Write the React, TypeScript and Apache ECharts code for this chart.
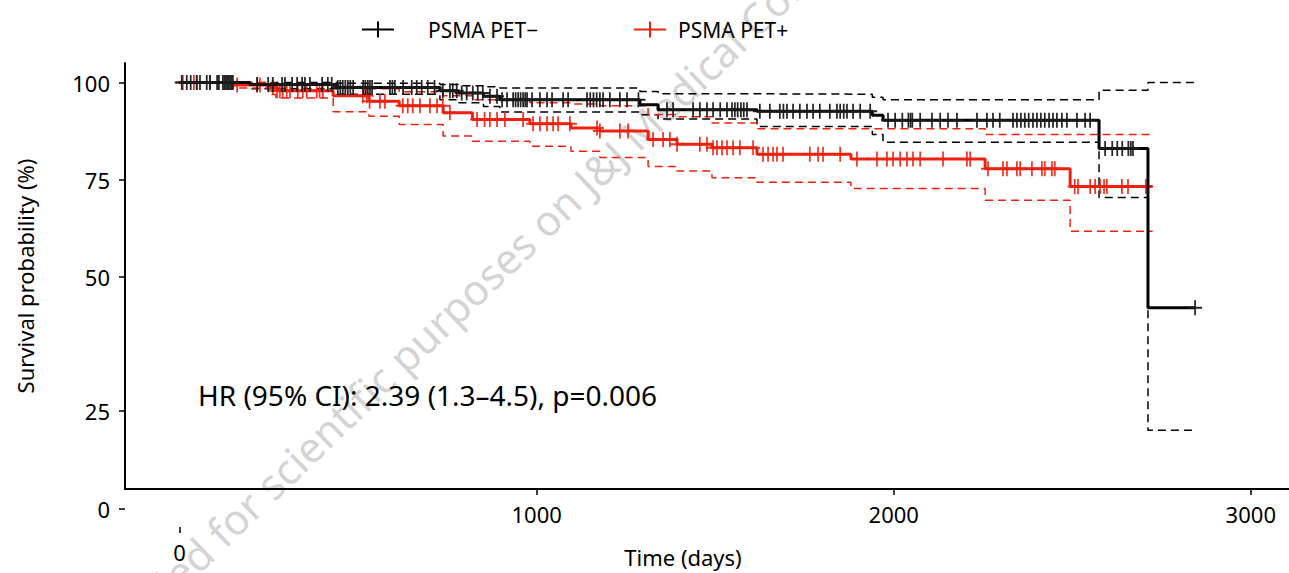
import React, { useEffect, useRef } from "react";
import * as echarts from "echarts";

// ---- axis ticks ----
const xTicks = [1000, 2000, 3000];
const xOriginTicks = [0];
const yTicks = [50, 75, 100];
const yLowTicks = [0, 25];

// ---- PSMA PET− (black) ----
const negTimes = [0, 197, 441, 729, 780, 851, 897, 1289, 1340, 1617, 1940, 1970, 2575, 2712, 2844];
const negSurv = [100, 99.5, 98.7, 97.9, 97.3, 96.5, 95.6, 94.3, 93.0, 92.6, 91.6, 90.3, 83.0, 42.0, 42.0];
const negUpper = [100, 100, 99.8, 99.5, 99.2, 98.9, 98.6, 97.7, 97.1, 97.0, 96.2, 95.6, 98.0, 100, 100];
const negLower = [100, 98.4, 97.0, 95.6, 94.8, 93.8, 92.4, 91.7, 90.6, 88.7, 86.6, 84.6, 70.4, 10.4, 10.4];
const negCensor = [
  6, 20, 31, 48, 57, 76, 85, 105, 110, 121, 125, 129, 133, 137, 141, 145, 149, 217, 248, 261, 287, 295,
  315, 329, 343, 351, 365, 399, 415, 426, 443, 450, 457, 464, 471, 478, 486, 514, 520, 527, 533, 539,
  589, 596, 603, 626, 650, 664, 678, 695, 714, 737, 757, 765, 776, 790, 804, 821, 835, 849, 869, 889,
  903, 917, 934, 941, 948, 955, 962, 968, 973, 987, 1009, 1029, 1043, 1074, 1088, 1141, 1150, 1159,
  1168, 1177, 1186, 1205, 1233, 1253, 1285, 1365, 1382, 1438, 1457, 1477, 1494, 1514, 1533, 1547,
  1555, 1563, 1572, 1580, 1589, 1625, 1653, 1681, 1691, 1701, 1718, 1737, 1757, 1774, 1793, 1821,
  1841, 1850, 1860, 1869, 1886, 1906, 1934, 1984, 2004, 2024, 2041, 2047, 2052, 2074, 2107, 2130,
  2152, 2177, 2233, 2261, 2278, 2297, 2334, 2345, 2356, 2367, 2378, 2390, 2401, 2412, 2423, 2435,
  2446, 2457, 2471, 2485, 2513, 2536, 2550, 2592, 2612, 2626, 2640, 2657, 2664, 2670, 2844,
];

// ---- PSMA PET+ (red) ----
const posTimes = [0, 150, 250, 270, 430, 530, 615, 738, 820, 981, 1096, 1177, 1312, 1393, 1491, 1617, 1880, 2256, 2494, 2725];
const posSurv = [100, 99.4, 98.7, 97.9, 96.6, 95.2, 94.0, 92.2, 90.5, 89.4, 88.3, 87.5, 85.3, 84.1, 83.2, 81.5, 80.3, 77.8, 73.2, 73.2];
const posUpper = [100, 100, 99.8, 99.4, 99.0, 98.4, 97.6, 96.6, 95.6, 94.8, 94.5, 94.0, 91.8, 91.2, 89.6, 88.1, 88.1, 86.6, 86.6, 86.6];
const posLower = [100, 98.6, 96.9, 96.0, 92.5, 91.3, 89.2, 86.2, 84.9, 83.6, 82.3, 80.7, 78.4, 77.2, 75.5, 74.3, 72.7, 69.7, 61.7, 61.7];
const posCensor = [
  9, 40, 48, 85, 161, 217, 225, 261, 273, 281, 289, 300, 309, 331, 345, 356, 384, 392, 401, 513, 524,
  532, 561, 575, 625, 639, 653, 673, 701, 721, 737, 757, 833, 854, 869, 889, 911, 962, 990, 1009, 1029,
  1046, 1060, 1093, 1169, 1177, 1233, 1256, 1326, 1354, 1373, 1393, 1457, 1477, 1494, 1505, 1519, 1533,
  1550, 1569, 1606, 1634, 1648, 1662, 1673, 1690, 1765, 1788, 1802, 1850, 1897, 1953, 1981, 1998, 2018,
  2037, 2054, 2074, 2138, 2205, 2214, 2264, 2306, 2317, 2345, 2354, 2387, 2415, 2423, 2443, 2451, 2507,
  2516, 2550, 2564, 2578, 2589, 2597, 2639, 2656, 2706,
];

const NEG = "PSMA PET\u2212";
const POS = "PSMA PET+";
const BLACK = "#000000";
const RED = "#f0200f";
const FONT = "Noto Sans";

const crossIcon = "path://M0,7H32V9H0Z M15,0H17V16H15Z";
const censorSym = "path://M7,0H9V15H7Z M0,6.5H16V8.5H0Z";

function zip(t: number[], v: number[]) {
  return t.map((x, i) => [x, v[i]]);
}
function survAt(times: number[], surv: number[], t: number) {
  let v = surv[0];
  for (let i = 0; i < times.length; i++) if (times[i] <= t) v = surv[i];
  return v;
}

export default function App() {
  const ref = useRef<HTMLDivElement>(null);
  useEffect(() => {
    if (!ref.current) return;
    const chart = echarts.init(ref.current, undefined, { renderer: "svg" });
    const lbl = { fontSize: 22, color: "#000", fontFamily: FONT };
    const plain = (v: number) => String(v);
    const xBase = { type: "value", min: -153, max: 3107, splitLine: { show: false } };
    const yBase = { type: "value", min: -4.73, max: 105.04, splitLine: { show: false } };
    chart.setOption({
      animation: false,
      textStyle: { fontFamily: FONT, color: "#000" },
      grid: [
        { left: 125, right: 0, top: 63, height: 429 },
        { left: 125, right: 0, top: 98, height: 429 },
      ],
      legend: [
        {
          data: [{ name: NEG, icon: crossIcon }],
          left: 357,
          top: 14,
          itemWidth: 32,
          itemHeight: 16,
          textStyle: { fontSize: 21, color: "#000", fontFamily: FONT, padding: [0, 0, 0, 29] },
        },
        {
          data: [{ name: POS, icon: crossIcon }],
          left: 629,
          top: 14,
          itemWidth: 32,
          itemHeight: 16,
          textStyle: { fontSize: 21, color: "#000", fontFamily: FONT, padding: [0, 0, 0, 7] },
        },
      ],
      xAxis: [
        {
          ...xBase,
          gridIndex: 0,
          axisLine: { show: true, onZero: false, lineStyle: { color: BLACK, width: 2 } },
          axisTick: { show: true, length: 6, customValues: xTicks, lineStyle: { color: BLACK, width: 1.5 } },
          axisLabel: { ...lbl, margin: 14, customValues: xTicks, formatter: plain },
          name: "Time (days)",
          nameLocation: "middle",
          nameGap: 57,
          nameTextStyle: { ...lbl, padding: [0, 48, 0, 0] },
        },
        {
          ...xBase,
          gridIndex: 1,
          axisLine: { show: false, onZero: false },
          axisTick: { show: true, length: 6, customValues: xOriginTicks, lineStyle: { color: BLACK, width: 1.5 } },
          axisLabel: { ...lbl, margin: 14, customValues: xOriginTicks, formatter: plain },
        },
      ],
      yAxis: [
        {
          ...yBase,
          gridIndex: 0,
          axisLine: { show: true, onZero: false, lineStyle: { color: BLACK, width: 2 } },
          axisTick: { show: true, length: 6, customValues: yTicks, lineStyle: { color: BLACK, width: 1.5 } },
          axisLabel: { ...lbl, margin: 15, customValues: yTicks, formatter: plain },
          name: "Survival probability (%)",
          nameLocation: "middle",
          nameGap: 89,
          nameTextStyle: lbl,
        },
        {
          ...yBase,
          gridIndex: 1,
          axisLine: { show: false, onZero: false },
          axisTick: { show: true, length: 6, customValues: yLowTicks, lineStyle: { color: BLACK, width: 1.5 } },
          axisLabel: { ...lbl, margin: 15, customValues: yLowTicks, formatter: plain },
        },
      ],
      graphic: [
        {
          type: "text",
          x: 80,
          y: 666,
          rotation: 0.764,
          z: -10,
          silent: true,
          style: {
            text: "Provided for scientific purposes on J&J Medical Connect",
            fontSize: 42,
            fontFamily: FONT,
            fill: "#d4d4d4",
            align: "left",
            verticalAlign: "middle",
          },
        },
        {
          type: "text",
          x: 198,
          y: 395,
          z: 10,
          style: {
            text: "HR (95% CI): 2.39 (1.3\u20134.5), p=0.006",
            fontSize: 28,
            fontFamily: FONT,
            fill: "#000",
            align: "left",
            verticalAlign: "middle",
          },
        },
      ],
      series: [
        {
          name: "neg upper",
          type: "line",
          step: "end",
          data: zip(negTimes, negUpper),
          showSymbol: false,
          z: 3,
          lineStyle: { color: BLACK, width: 1.5, type: [8, 5] },
        },
        {
          name: "neg lower",
          type: "line",
          step: "end",
          data: zip(negTimes, negLower),
          showSymbol: false,
          z: 3,
          lineStyle: { color: BLACK, width: 1.5, type: [8, 5] },
        },
        {
          name: "pos upper",
          type: "line",
          step: "end",
          data: zip(posTimes, posUpper),
          showSymbol: false,
          z: 3,
          lineStyle: { color: RED, width: 1.5, type: [8, 5] },
        },
        {
          name: "pos lower",
          type: "line",
          step: "end",
          data: zip(posTimes, posLower),
          showSymbol: false,
          z: 3,
          lineStyle: { color: RED, width: 1.5, type: [8, 5] },
        },
        {
          name: POS,
          type: "line",
          step: "end",
          color: RED,
          data: zip(posTimes, posSurv),
          showSymbol: false,
          z: 4,
          lineStyle: { color: RED, width: 3 },
        },
        {
          name: "pos censored",
          type: "scatter",
          data: posCensor.map((t) => [t, survAt(posTimes, posSurv, t)]),
          symbol: censorSym,
          symbolSize: [14, 15],
          z: 4,
          itemStyle: { color: RED, opacity: 0.9 },
        },
        {
          name: NEG,
          type: "line",
          step: "end",
          color: BLACK,
          data: zip(negTimes, negSurv),
          showSymbol: false,
          z: 5,
          lineStyle: { color: BLACK, width: 3 },
        },
        {
          name: "neg censored",
          type: "scatter",
          data: negCensor.map((t) => [t, survAt(negTimes, negSurv, t)]),
          symbol: censorSym,
          symbolSize: [14, 15],
          z: 5,
          itemStyle: { color: "#1a1a1a", opacity: 0.95 },
        },
      ],
    });
    return () => chart.dispose();
  }, []);
  return (
    <div
      ref={ref}
      style={{ position: "fixed", left: 0, top: 0, width: 1289, height: 573, background: "#fff" }}
    />
  );
}
